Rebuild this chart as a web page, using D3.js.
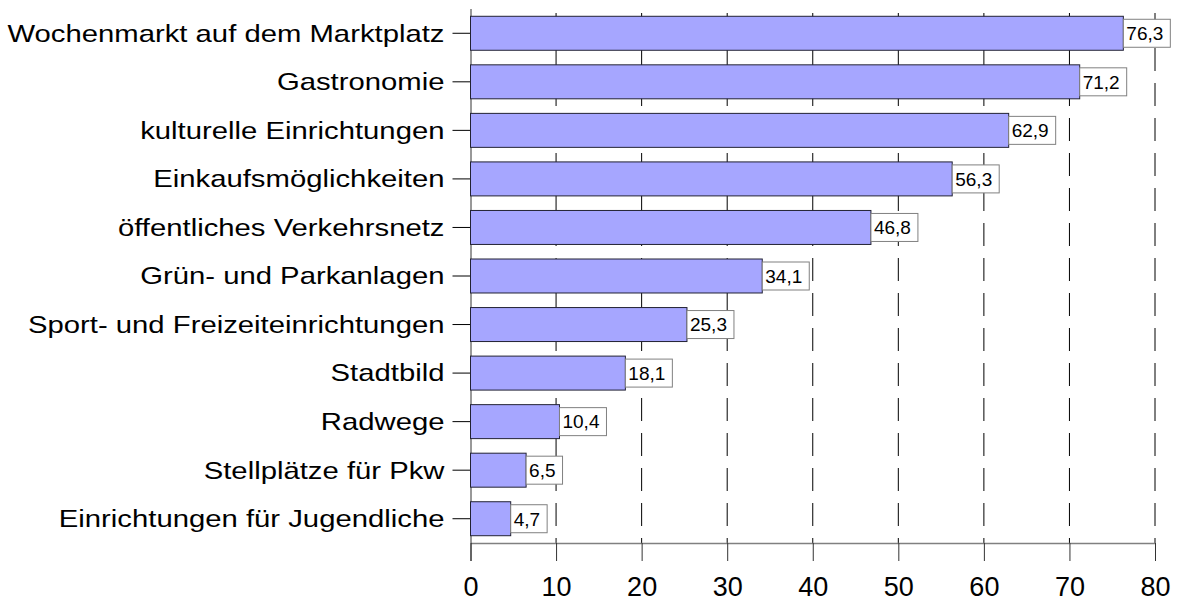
<!DOCTYPE html>
<html>
<head>
<meta charset="utf-8">
<script src="https://cdn.jsdelivr.net/npm/d3@7"></script>
<style>
  body { margin: 0; background: #fff; }
  text { font-family: "Liberation Sans", Arial, sans-serif; }
</style>
</head>
<body>
<div id="chart"></div>
<script>
const categories = ['Wochenmarkt auf dem Marktplatz', 'Gastronomie', 'kulturelle Einrichtungen',
    'Einkaufsmöglichkeiten', 'öffentliches Verkehrsnetz', 'Grün- und Parkanlagen',
    'Sport- und Freizeiteinrichtungen', 'Stadtbild', 'Radwege', 'Stellplätze für Pkw',
    'Einrichtungen für Jugendliche'];
const values = [76.3, 71.2, 62.9, 56.3, 46.8, 34.1, 25.3, 18.1, 10.4, 6.5, 4.7];
const xTicks = [0, 10, 20, 30, 40, 50, 60, 70, 80];

const svgWidth = 1179;
const svgHeight = 602;
const margin = { top: 9, right: 24, bottom: 59, left: 470.5 };
const width = svgWidth - margin.left - margin.right;
const height = svgHeight - margin.top - margin.bottom;

const svg = d3.select('#chart')
    .append('svg')
    .attr('width', svgWidth)
    .attr('height', svgHeight)
    .append('g')
    .attr('transform', 'translate(' + margin.left + ',' + margin.top + ')');

const xScale = d3.scaleLinear()
    .domain([0, 80])
    .range([0, width]);

const yScale = d3.scaleBand()
    .domain(categories)
    .range([0, height])
    .paddingInner(0.3)
    .paddingOuter(0.15);

// dashed grid lines
svg.selectAll('.grid')
    .data(xTicks.filter(d => d > 0))
    .enter().append('line')
    .attr('class', 'grid')
    .attr('x1', d => xScale(d))
    .attr('x2', d => xScale(d))
    .attr('y1', 4)
    .attr('y2', height)
    .attr('stroke', '#000')
    .attr('stroke-dasharray', '23,12');

// bottom axis
const xAxis = svg.append('g')
    .attr('transform', 'translate(0,' + height + ')')
    .call(d3.axisBottom(xScale).tickValues(xTicks).tickSize(18).tickPadding(16).tickSizeOuter(0));
xAxis.select('.domain').attr('stroke', '#808080').attr('stroke-width', 1.5);
xAxis.selectAll('.tick line').attr('stroke', '#333');
xAxis.selectAll('.tick text')
    .style('font-size', '27px')
    .attr('fill', '#000');

// left axis
const yAxis = svg.append('g')
    .call(d3.axisLeft(yScale).tickSize(18).tickSizeOuter(0).tickFormat(''));
yAxis.select('.domain').attr('stroke', '#333').attr('d', 'M0.5,0V' + (height + 18));
yAxis.selectAll('.tick line').attr('stroke', '#000');

yAxis.selectAll('.tick')
    .append('g')
    .attr('transform', 'translate(-26,0) scale(1.22,1)')
    .append('text')
    .attr('text-anchor', 'end')
    .attr('dy', '0.35em')
    .attr('fill', '#000')
    .style('font-size', '24px')
    .text(d => d);

// bars
svg.selectAll('.bar')
    .data(values)
    .enter().append('rect')
    .attr('class', 'bar')
    .attr('x', xScale(0))
    .attr('y', (d, i) => yScale(categories[i]))
    .attr('width', d => xScale(d))
    .attr('height', yScale.bandwidth())
    .attr('fill', '#a6a6ff')
    .attr('stroke', '#222233')
    .attr('stroke-width', 1);

// value labels
const labels = svg.selectAll('.val')
    .data(values)
    .enter().append('g')
    .attr('class', 'val')
    .attr('transform', (d, i) => 'translate(' + xScale(d) + ',' + (yScale(categories[i]) + yScale.bandwidth() / 2) + ')');

labels.append('rect')
    .attr('y', -14)
    .attr('height', 28)
    .attr('fill', '#fff')
    .attr('stroke', '#808080');

labels.append('text')
    .attr('x', 3)
    .attr('dy', '0.36em')
    .style('font-size', '19px')
    .attr('fill', '#000')
    .text(d => d.toFixed(1).replace('.', ','));

labels.each(function() {
    const g = d3.select(this);
    const w = g.select('text').node().getComputedTextLength();
    g.select('rect').attr('width', w + 10);
});
</script>
</body>
</html>
